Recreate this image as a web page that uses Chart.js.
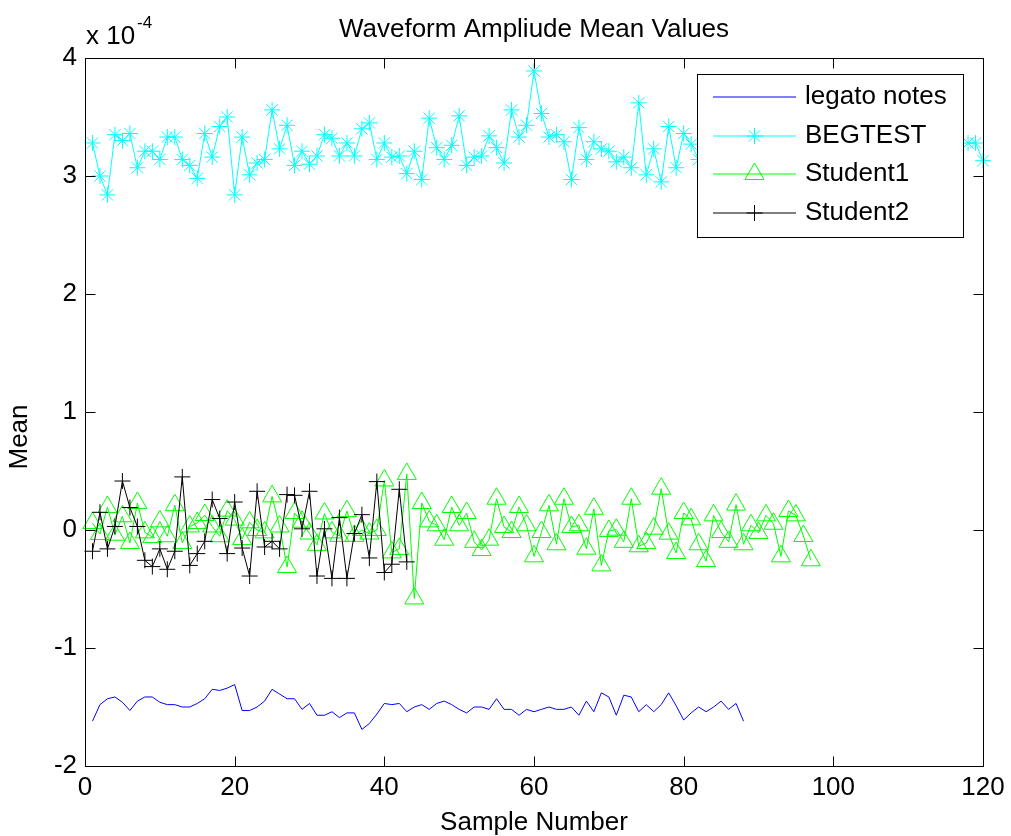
<!DOCTYPE html>
<html>
<head>
<meta charset="utf-8">
<script src="https://cdn.jsdelivr.net/npm/chart.js@4/dist/chart.umd.min.js"></script>
<style>
html,body{margin:0;padding:0;background:#fff;}
#wrap{position:relative;width:1011px;height:836px;}
</style>
</head>
<body>
<div id="wrap"><canvas id="c" width="1011" height="836"></canvas></div>
<script>
// Values are in units of 1e-4 (axis multiplier shown as "x 10^-4")
const titleText = 'Waveform Ampliude Mean Values';
const xLabel = 'Sample Number';
const yLabel = 'Mean';
const xTicks = [0, 20, 40, 60, 80, 100, 120];
const yTicks = [-2, -1, 0, 1, 2, 3, 4];
const seriesNames = ['legato notes', 'BEGTEST', 'Student1', 'Student2'];

const legatoNotes = [
  -1.62, -1.48, -1.43, -1.415, -1.46, -1.53, -1.45, -1.415, -1.415, -1.46,
  -1.48, -1.48, -1.50, -1.50, -1.47, -1.43, -1.35, -1.36, -1.34, -1.31,
  -1.53, -1.53, -1.50, -1.45, -1.35, -1.39, -1.43, -1.43, -1.52, -1.47,
  -1.57, -1.57, -1.54, -1.59, -1.55, -1.55, -1.69, -1.64, -1.56, -1.47,
  -1.48, -1.47, -1.54, -1.50, -1.48, -1.52, -1.47, -1.45, -1.48, -1.52,
  -1.55, -1.50, -1.50, -1.52, -1.43, -1.52, -1.52, -1.57, -1.52, -1.54,
  -1.52, -1.50, -1.52, -1.52, -1.50, -1.57, -1.45, -1.54, -1.38, -1.415,
  -1.57, -1.40, -1.415, -1.54, -1.48, -1.54, -1.48, -1.38, -1.49, -1.61,
  -1.55, -1.50, -1.54, -1.50, -1.45, -1.52, -1.47, -1.62
];

// samples 83..117 are hidden behind the legend in the reference
const begtest = [
  3.28, 3.00, 2.84, 3.35, 3.30, 3.36, 3.07, 3.21, 3.21, 3.14,
  3.33, 3.33, 3.14, 3.09, 2.98, 3.36, 3.16, 3.42, 3.50, 2.84,
  3.33, 3.01, 3.11, 3.14, 3.56, 3.23, 3.43, 3.09, 3.21, 3.10,
  3.17, 3.35, 3.32, 3.17, 3.28, 3.17, 3.40, 3.45, 3.14, 3.28,
  3.16, 3.17, 3.02, 3.21, 2.97, 3.49, 3.24, 3.14, 3.26, 3.51,
  3.09, 3.16, 3.17, 3.34, 3.24, 3.11, 3.56, 3.33, 3.43, 3.89,
  3.53, 3.33, 3.35, 3.29, 2.97, 3.41, 3.14, 3.29, 3.23, 3.21,
  3.12, 3.16, 3.07, 3.62, 3.01, 3.23, 2.95, 3.42, 3.07, 3.36,
  3.27, 3.14, null, null, null, null, null, null, null, null,
  null, null, null, null, null, null, null, null, null, null,
  null, null, null, null, null, null, null, null, null, null,
  null, null, null, null, null, null, null, 3.28, 3.28, 3.13
];

const student1 = [
  0.059, -0.034, 0.195, -0.04, 0.116, -0.11, 0.229, -0.02, -0.06, 0.073,
  -0.053, 0.21, -0.11, 0.03, 0.059, 0.127, 0.03, -0.053, 0.164, 0.088,
  -0.077, 0.065, 0.0, -0.02, 0.285, 0.03, -0.314, 0.144, 0.07, -0.03,
  -0.126, 0.14, -0.02, -0.05, 0.16, -0.05, 0.0, -0.03, 0.0, 0.42,
  -0.19, -0.16, 0.475, -0.58, 0.229, 0.073, 0.04, -0.082, 0.195, 0.04,
  0.144, -0.10, -0.17, -0.082, 0.265, 0.025, -0.017, 0.195, 0.04, -0.223,
  -0.017, 0.209, -0.121, 0.265, 0.025, 0.04, -0.158, 0.18, -0.30, -0.008,
  0.003, -0.10, 0.265, -0.138, -0.11, 0.011, 0.35, -0.031, -0.195, 0.144,
  0.09, -0.121, -0.263, 0.124, -0.017, -0.10, 0.215, -0.121, 0.04, -0.025,
  0.124, 0.053, -0.223, 0.161, 0.124, -0.051, -0.257
];

const student2 = [
  -0.18, 0.15, -0.16, 0.03, 0.415, 0.19, 0.03, -0.257, -0.31, -0.16,
  -0.333, -0.18, 0.45, -0.30, -0.20, -0.096, 0.258, 0.097, -0.20, 0.237,
  -0.153, -0.39, 0.328, -0.144, -0.096, -0.16, 0.30, 0.294, 0.01, 0.328,
  -0.39, 0.01, -0.41, 0.105, -0.41, -0.03, 0.13, -0.237, 0.41, -0.36,
  -0.29, 0.345, -0.27
];

const FONT = '"Liberation Sans", Arial, Helvetica, sans-serif';
const toPoints = arr => arr.map((v, i) => ({ x: i + 1, y: v }));

const styles = [
  { color: '#0000ff', pointStyle: false, radius: 0 },
  { color: '#00ffff', pointStyle: 'star', radius: 8 },
  { color: '#00ff00', pointStyle: 'triangle', radius: 11 },
  { color: '#000000', pointStyle: 'cross', radius: 8 }
];
const seriesData = [legatoNotes, begtest, student1, student2];

const datasets = seriesData.map((arr, k) => ({
  label: seriesNames[k],
  data: toPoints(arr),
  borderColor: styles[k].color,
  borderWidth: 1,
  pointStyle: styles[k].pointStyle || 'circle',
  pointRadius: styles[k].radius,
  pointHoverRadius: styles[k].radius,
  pointBorderColor: styles[k].color,
  pointBackgroundColor: 'rgba(0,0,0,0)',
  pointBorderWidth: 1,
  tension: 0,
  spanGaps: false,
  clip: false,
  order: 3 - k
}));

function drawMarker(ctx, style, radius, x, y, color) {
  if (!style) return;
  ctx.save();
  ctx.strokeStyle = color;
  ctx.fillStyle = 'rgba(0,0,0,0)';
  ctx.lineWidth = 1;
  if (Chart.helpers && Chart.helpers.drawPoint) {
    Chart.helpers.drawPoint(ctx, { pointStyle: style, radius: radius, rotation: 0, borderWidth: 1 }, x, y);
  }
  ctx.restore();
}

const framePlugin = {
  id: 'frame',
  afterDatasetsDraw(chart) {
    const { ctx, chartArea: a, scales } = chart;
    ctx.save();
    ctx.strokeStyle = '#000';
    ctx.lineWidth = 1;
    const L = Math.round(a.left) + 0.5, R = Math.round(a.right) + 0.5;
    const T = Math.round(a.top) + 0.5, B = Math.round(a.bottom) + 0.5;
    ctx.beginPath();
    ctx.rect(L, T, R - L, B - T);
    ctx.stroke();
    const tl = 10;
    ctx.beginPath();
    xTicks.forEach(v => {
      const px = Math.round(scales.x.getPixelForValue(v)) + 0.5;
      ctx.moveTo(px, B); ctx.lineTo(px, B - tl);
      ctx.moveTo(px, T); ctx.lineTo(px, T + tl);
    });
    yTicks.forEach(v => {
      const py = Math.round(scales.y.getPixelForValue(v)) + 0.5;
      ctx.moveTo(L, py); ctx.lineTo(L + tl, py);
      ctx.moveTo(R, py); ctx.lineTo(R - tl, py);
    });
    ctx.stroke();

    // axis multiplier
    ctx.fillStyle = '#000';
    ctx.textBaseline = 'alphabetic';
    ctx.textAlign = 'left';
    ctx.font = '26px ' + FONT;
    ctx.fillText('x 10', a.left + 1, a.top - 14);
    ctx.font = '17px ' + FONT;
    ctx.fillText('-4', a.left + 52, a.top - 30);

    // y axis label
    ctx.save();
    ctx.translate(20, 437);
    ctx.rotate(-Math.PI / 2);
    ctx.font = '26px ' + FONT;
    ctx.textAlign = 'center';
    ctx.textBaseline = 'middle';
    ctx.fillText(yLabel, 0, 0);
    ctx.restore();

    // legend box
    const lx = a.right - 20 - 266, ly = a.top + 16, lw = 266, lh = 163;
    ctx.fillStyle = '#fff';
    ctx.fillRect(lx, ly, lw, lh);
    ctx.strokeStyle = '#000';
    ctx.lineWidth = 1;
    ctx.strokeRect(Math.round(lx) + 0.5, Math.round(ly) + 0.5, lw, lh);
    seriesNames.forEach((name, k) => {
      const cy = Math.round(ly + 23 + k * 38.5);
      ctx.strokeStyle = styles[k].color;
      ctx.lineWidth = 1;
      ctx.beginPath();
      ctx.moveTo(lx + 16, cy); ctx.lineTo(lx + 99, cy);
      ctx.stroke();
      drawMarker(ctx, styles[k].pointStyle, styles[k].radius, lx + 57.5, cy, styles[k].color);
      ctx.fillStyle = '#000';
      ctx.font = '26px ' + FONT;
      ctx.textBaseline = 'middle';
      ctx.textAlign = 'left';
      ctx.fillText(name, lx + 108, cy);
    });
    ctx.restore();
  }
};

new Chart(document.getElementById('c'), {
  type: 'line',
  data: { datasets },
  options: {
    responsive: false,
    animation: false,
    devicePixelRatio: 1,
    events: [],
    layout: { padding: { left: 0, right: 28, top: 0, bottom: 0 } },
    plugins: {
      legend: { display: false },
      tooltip: { enabled: false },
      title: {
        display: true,
        text: titleText,
        color: '#000',
        fullSize: false,
        font: { family: FONT, size: 26, weight: 'normal', lineHeight: 1 },
        padding: { top: 17, bottom: 15 }
      }
    },
    scales: {
      x: {
        type: 'linear',
        min: 0, max: 120,
        afterBuildTicks: s => { s.ticks = xTicks.map(v => ({ value: v })); },
        afterFit: s => { s.height = 70; },
        grid: { display: false, drawTicks: false },
        border: { display: false },
        ticks: { color: '#000', padding: 6, maxRotation: 0, autoSkip: false,
                 font: { family: FONT, size: 26, lineHeight: 1.2 } },
        title: { display: true, text: xLabel, color: '#000',
                 font: { family: FONT, size: 26, lineHeight: 1 },
                 padding: { top: 0, bottom: 0 } }
      },
      y: {
        type: 'linear',
        min: -2, max: 4,
        afterBuildTicks: s => { s.ticks = yTicks.map(v => ({ value: v })); },
        afterFit: s => { s.width = 85; },
        grid: { display: false, drawTicks: false },
        border: { display: false },
        ticks: { color: '#000', padding: 8, autoSkip: false,
                 font: { family: FONT, size: 26, lineHeight: 1.2 },
                 callback: v => String(v) },
        title: { display: false, text: yLabel }
      }
    }
  },
  plugins: [framePlugin]
});
</script>
</body>
</html>
